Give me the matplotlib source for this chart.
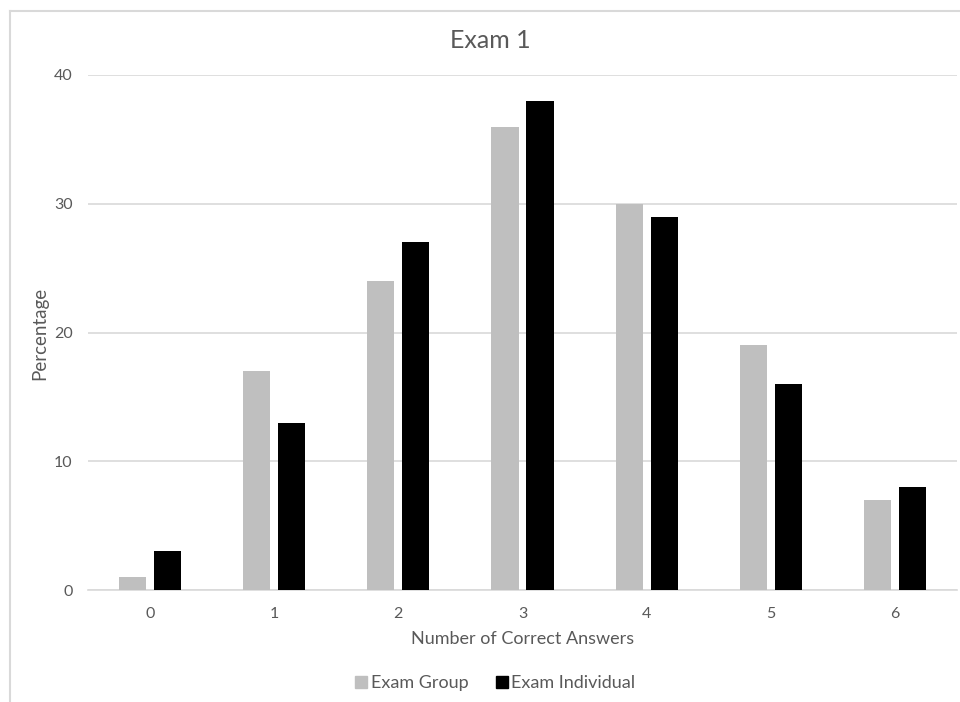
import numpy as np
import matplotlib
matplotlib.use('Agg')
import matplotlib.pyplot as plt
from matplotlib.lines import Line2D

plt.rcParams['font.family'] = ['Lato', 'DejaVu Sans']

# Share of students by number of correct answers
answers = ['0', '1', '2', '3', '4', '5', '6']
exam_group = [1, 17, 24, 36, 30, 19, 7]
exam_individual = [3, 13, 27, 38, 29, 16, 8]

text_color = '#595959'
grid_color = '#d9d9d9'

fig = plt.figure(figsize=(9.6, 7.02), dpi=100)
ax = fig.add_axes([88 / 960, 1 - 590 / 702, (957 - 88) / 960, (590 - 75) / 702])

x = np.arange(len(answers))
width = 0.218
offset = 0.141
ax.bar(x - offset, exam_group, width, color='#bfbfbf', label='Exam Group', zorder=3)
ax.bar(x + offset, exam_individual, width, color='#000000', label='Exam Individual', zorder=3)

ax.set_xlim(-0.5, len(answers) - 0.5)
ax.set_ylim(0, 40)
ax.set_yticks([0, 10, 20, 30, 40])
ax.set_xticks(x)
ax.set_xticklabels(answers)
ax.grid(axis='y', color=grid_color, linewidth=1.2, zorder=0)
for side in ['top', 'right', 'left']:
    ax.spines[side].set_visible(False)
ax.spines['bottom'].set_color(grid_color)
ax.spines['bottom'].set_linewidth(1.2)
ax.tick_params(axis='both', length=0, colors=text_color, labelsize=11.5)
ax.tick_params(axis='x', pad=12)
ax.tick_params(axis='y', pad=11)

fig.text(40 / 960, 1 - 333 / 702, 'Percentage', rotation=90, ha='center', va='center',
         color=text_color, fontsize=13.5)
fig.text(523 / 960, 1 - 639 / 702, 'Number of Correct Answers', ha='center', va='center',
         color=text_color, fontsize=13)
fig.text(490 / 960, 1 - 40 / 702, 'Exam 1', ha='center', va='center',
         color=text_color, fontsize=18)

handles = [Line2D([], [], marker='s', linestyle='', markersize=9, color='#bfbfbf'),
           Line2D([], [], marker='s', linestyle='', markersize=9, color='#000000')]
fig.legend(handles, ['Exam Group', 'Exam Individual'], loc='center',
           bbox_to_anchor=(494 / 960, 1 - 683 / 702), ncol=2, frameon=False,
           fontsize=13, labelcolor=text_color, handletextpad=0.05,
           columnspacing=1.3, handlelength=1.0)

# chart area border
fig.add_artist(Line2D([10 / 960, 10 / 960], [0, 1 - 11 / 702], transform=fig.transFigure,
                      color=grid_color, linewidth=1.5))
fig.add_artist(Line2D([10 / 960, 1], [1 - 11 / 702, 1 - 11 / 702], transform=fig.transFigure,
                      color=grid_color, linewidth=1.5))

fig.savefig('out.png', dpi=100)
